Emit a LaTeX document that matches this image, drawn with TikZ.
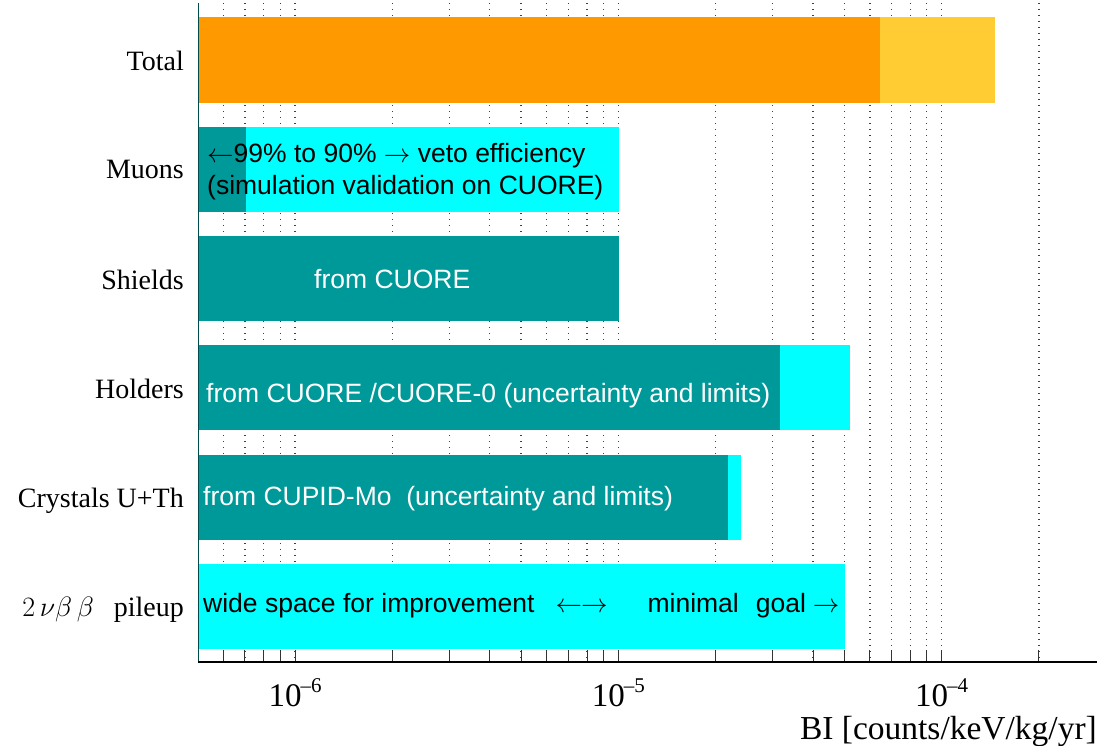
\RequirePackage{fix-cm}
\documentclass[tikz,border=0pt]{standalone}
\usepackage{fontspec}
\setmainfont{Liberation Serif}
\setsansfont{Liberation Sans}
\usetikzlibrary{positioning}
\definecolor{bteal}{RGB}{0,153,153}
\definecolor{bcyan}{RGB}{0,255,255}
\definecolor{borange}{RGB}{255,153,0}
\definecolor{byellow}{RGB}{255,204,51}
\tikzset{>=latex}

\begin{document}
\begin{tikzpicture}[x=1pt, y=-1pt]
    % 1 unit = 1 px, y downwards; one decade = 323.3, 10^-6 at x=295
    \tikzstyle{every node}=[inner sep=0pt]
    \tikzstyle{grid line}=[black!75, line width=1.3pt, dash pattern=on 1.4pt off 4.6pt]
    \tikzstyle{axis tick}=[black!80, line width=0.9pt]
    \tikzstyle{row label}=[anchor=base east, font=\fontsize{28}{30}\selectfont]
    \tikzstyle{bar text}=[anchor=base west, font=\sffamily\fontsize{26.5}{30}\selectfont]
    \tikzstyle{tick label}=[anchor=base, text depth=0pt, font=\fontsize{33}{36}\selectfont]
    \newcommand{\supr}[1]{\kern-1pt{\fontsize{21}{21}\selectfont\raisebox{14pt}{#1}}}
    \newcommand{\la}{$\leftarrow$}
    \newcommand{\ra}{$\rightarrow$}
    \useasboundingbox (0,0) rectangle (1103,746);

    % dotted grid + ticks
    \foreach \d in {-1,0,1,2}{
        \foreach \m in {1,...,9}{
            \pgfmathsetmacro{\gx}{295+323.3*(\d+log10(\m))}
            \pgfmathparse{(\gx>200)&&(\gx<1090)?1:0}
            \ifnum\pgfmathresult=1
                \draw[grid line] (\gx,3) -- (\gx,662);
                \draw[axis tick] (\gx,662) -- (\gx,650);
            \fi
        }
    }

    % bars
    \fill[borange] (198,17) rectangle (880,103);
    \fill[byellow] (880,17) rectangle (995,103);

    \fill[bteal] (198,127) rectangle (246,212);
    \fill[bcyan] (246,127) rectangle (619,212);

    \fill[bteal] (198,236) rectangle (619,321);

    \fill[bteal] (198,345) rectangle (780,430);
    \fill[bcyan] (780,345) rectangle (850,430);

    \fill[bteal] (198,455) rectangle (728,540);
    \fill[bcyan] (728,455) rectangle (741,540);

    \fill[bcyan] (198,564) rectangle (845,649);

    % axes
    \draw[bteal!50!black, line width=1pt] (198,3) -- (198,662);
    \draw[black, line width=1.5pt] (198,662) -- (1097,662);

    % row labels
    \node[row label] (total) at (184,71) {Total};
    \node[row label] (muons) at (184,179) {Muons};
    \node[row label] (shields) at (184,289) {Shields};
    \node[row label] (holders) at (184,398) {Holders};
    \node[row label] (crystals) at (184,507) {Crystals U+Th};
    \node[row label] (pileup) at (184,616) {$2\,\nu\beta\,\beta$\hspace{20pt}pileup};

    % texts in the bars
    \node[bar text] (muontxt) at (207,163) {\la\kern0pt 99\% to 90\% \ra\ veto efficiency};
    \node[bar text] (muonsim) at (207,195) {(simulation validation on CUORE)};
    \node[bar text, white] (shieldtxt) at (314,288) {from CUORE};
    \node[bar text, white] (holdtxt) at (206,402) {from CUORE /CUORE-0 (uncertainty and limits)};
    \node[bar text, white] (crystxt) at (203,505) {from CUPID-Mo\ \ (uncertainty and limits)};
    \node[bar text] (piletxt) at (203,612) {wide space for improvement\hspace{21pt}\la\kern-1pt\ra\hspace{40pt}minimal\hspace{17pt}goal\hspace{7pt}\ra};

    % x axis labels
    \node[tick label] (em6) at (295,706) {10\supr{–6}};
    \node[tick label] (em5) at (618.3,706) {10\supr{–5}};
    \node[tick label] (em4) at (941.6,706) {10\supr{–4}};
    \node[anchor=base east, font=\fontsize{33.5}{36}\selectfont] (bilabel) at (1097,739) {BI [counts/keV/kg/yr]};
\end{tikzpicture}
\end{document}
